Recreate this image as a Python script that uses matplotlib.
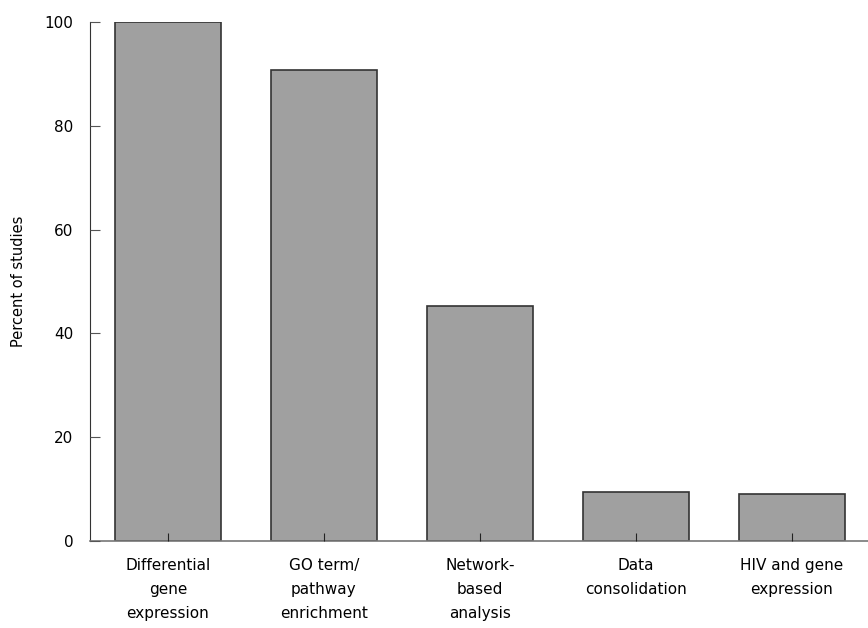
import matplotlib
matplotlib.use("Agg")
import matplotlib.pyplot as plt

categories = ["Differential\ngene\nexpression", "GO term/\npathway\nenrichment",
              "Network-\nbased\nanalysis", "Data\nconsolidation", "HIV and gene\nexpression"]
values = [100, 90.8, 45.2, 9.4, 9.0]
yticks = [0, 20, 40, 60, 80, 100]

plt.rcParams['font.family'] = ['DejaVu Sans']
fig = plt.figure(figsize=(8.68, 6.28), dpi=100)
ax = fig.add_axes([90/868, 1-541/628, 1-90/868, (541-22)/628])

x = list(range(len(categories)))
ax.bar(x, values, width=0.68, color="#a0a0a0", edgecolor="#333333", linewidth=1.2, zorder=2)
ax.set_xlim(-0.5, 4.49)
ax.set_ylim(0, 100)
ax.set_yticks(yticks)
ax.set_xticks(x)
ax.set_xticklabels(categories, fontsize=11, linespacing=1.78, va="top")
ax.tick_params(axis="y", direction="in", length=7, color="#555555", labelsize=11, pad=12)
ax.tick_params(axis="x", direction="in", length=6, color="#222222", pad=12)
for t in ax.xaxis.get_major_ticks():
    t.tick1line.set_zorder(5)
ax.spines["top"].set_visible(False)
ax.spines["right"].set_visible(False)
ax.spines["left"].set_color("#333333")
ax.spines["bottom"].set_color("#777777")
ax.spines["bottom"].set_linewidth(1.2)
ax.set_axisbelow(False)
ax.set_ylabel("Percent of studies", fontsize=10.5)
ax.yaxis.set_label_coords(-64/778, 0.5)

fig.savefig("out.png", dpi=100)
